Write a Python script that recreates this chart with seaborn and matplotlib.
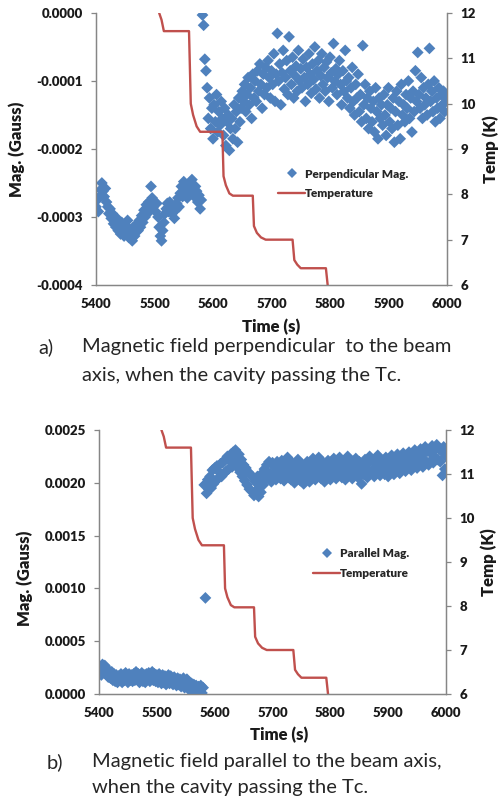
import numpy as np
import pandas as pd
import matplotlib
matplotlib.use("Agg")
import matplotlib.pyplot as plt
from matplotlib.lines import Line2D
import seaborn as sns

# ---------------- data ----------------
# temperature trace (same run shown on both panels)
temp_time = [5508, 5512, 5516, 5559, 5562, 5566, 5572, 5578, 5616, 5618, 5622, 5628,
             5634, 5668, 5670, 5675, 5682, 5690, 5736, 5739, 5744, 5750, 5793, 5796]
temp_vals = [12.0, 11.85, 11.6, 11.6, 10.0, 9.75, 9.5, 9.38, 9.38, 8.4, 8.2, 8.02,
             7.97, 7.97, 7.3, 7.15, 7.05, 7.0, 7.0, 6.55, 6.45, 6.37, 6.37, 6.0]

# sample times
t_low = np.arange(5400, 5581, 2)      # 91 samples
t_high = np.arange(5582, 6001, 2)     # 210 samples

# a) perpendicular magnetisation, units of 1e-4 Gauss
perp_low = [-2.85, -2.75, -2.92, -2.70, -2.60,
            -2.50, -2.62, -2.70, -2.58, -2.78,
            -2.85, -2.95, -2.88, -3.02, -2.95, -3.10, -3.05, -3.15, -3.02, -3.20,
            -3.12, -3.25, -3.08, -3.18, -3.28, -3.12, -3.22, -3.05, -3.30, -3.18,
            -3.25, -3.35, -3.15, -3.28, -3.22, -3.10, -3.20, -3.05, -3.15, -2.98,
            -3.08, -2.90, -3.00, -2.82, -2.95, -2.78, -2.88, -2.55, -2.72, -2.85,
            -2.78, -2.92, -2.80, -3.00, -3.15, -3.28, -3.35, -3.20, -3.08, -2.95,
            -2.88, -2.80, -2.92, -2.78, -2.85, -2.95, -2.88, -3.02, -2.90, -2.80,
            -2.72, -2.85, -2.65, -2.55, -2.70, -2.48, -2.62, -2.55, -2.72, -2.60,
            -2.50, -2.65, -2.45, -2.58, -2.70, -2.55, -2.62, -2.78, -2.68, -2.88,
            -2.75]
perp_high = [-0.03, -0.18, -0.68, -0.85, -1.10,
             -1.55, -1.25, -1.70, -1.40, -1.85, -1.35, -1.60, -1.20, -1.75, -1.45,
             -1.65, -1.30, -1.55, -1.80, -1.40, -1.95, -1.60, -1.50, -2.02, -1.70,
             -1.55, -1.85, -1.35, -1.70, -1.45, -1.90, -1.25, -1.60, -1.40, -1.15,
             -1.30, -1.05, -1.45, -1.20, -0.95, -1.35, -1.10, -1.55, -0.90, -1.25,
             -1.00, -1.30, -0.85, -1.15, -0.75, -1.05, -1.40, -0.90, -1.20, -0.80,
             -1.10, -0.70, -0.95, -1.25, -0.85, -1.05, -0.60, -1.30, -0.90, -0.30,
             -1.00, -0.75, -1.35, -0.88, -0.55, -1.12, -0.95, -0.70, -1.20, -0.35,
             -0.85, -1.05, -0.65, -1.25, -0.92, -0.78, -1.15, -0.55, -1.00, -0.82,
             -1.10, -0.68, -0.95, -1.30, -0.80, -1.05, -0.60, -0.90, -1.18, -0.75,
             -0.98, -0.50, -1.12, -0.85, -0.70, -1.25, -0.92, -0.60, -1.05, -0.80,
             -1.15, -0.72, -0.95, -1.30, -0.65, -0.88, -1.10, -0.45, -1.00, -0.82,
             -1.20, -0.90, -0.70, -1.05, -1.35, -0.85, -1.15, -0.55, -1.00, -1.25,
             -0.95, -1.40, -1.10, -0.80, -1.30, -1.50, -1.05, -1.25, -0.90, -1.45,
             -1.20, -1.60, -0.48, -1.35, -1.05, -1.55, -1.25, -1.70, -1.15, -1.40,
             -1.60, -1.30, -1.75, -1.10, -1.45, -1.85, -1.25, -1.55, -1.35, -1.65,
             -1.20, -1.50, -1.80, -1.35, -1.10, -1.60, -1.40, -1.70, -1.25, -1.90,
             -1.45, -1.15, -1.65, -1.30, -1.85, -1.05, -1.50, -1.35, -1.60, -1.20,
             -1.40, -1.00, -1.55, -1.25, -1.75, -1.15, -1.45, -0.85, -1.30, -0.58,
             -1.20, -1.40, -0.95, -1.55, -1.10, -1.35, -1.25, -1.50, -1.05, -0.52,
             -1.30, -1.15, -1.45, -1.00, -1.60, -1.25, -1.40, -1.10, -1.55, -1.20,
             -1.35, -1.15, -1.45, -1.25, -1.30]

# b) parallel magnetisation, units of 1e-3 Gauss
par_low = [0.20, 0.26, 0.18, 0.28, 0.22,
           0.27, 0.19, 0.24, 0.16, 0.21,
           0.15, 0.21, 0.13, 0.19, 0.12, 0.18, 0.11, 0.17, 0.13, 0.19,
           0.11, 0.18, 0.13, 0.20, 0.14, 0.11, 0.19, 0.13, 0.18, 0.12,
           0.19, 0.13, 0.21, 0.14, 0.19, 0.11, 0.17, 0.20, 0.12, 0.18,
           0.11, 0.19, 0.14, 0.20, 0.12, 0.18, 0.21, 0.13, 0.19, 0.12,
           0.18, 0.11, 0.19, 0.13, 0.10, 0.18, 0.11, 0.17, 0.09, 0.16,
           0.18, 0.10, 0.17, 0.11, 0.09, 0.16, 0.10, 0.08, 0.15, 0.09,
           0.14, 0.07, 0.13, 0.15, 0.06, 0.12, 0.14, 0.05, 0.11, 0.04,
           0.10, 0.03, 0.09, 0.01, 0.08, 0.00, 0.07, 0.02, 0.08, 0.01,
           0.06]
par_high = [1.98, 0.91, 1.90, 2.03, 1.94,
            2.06, 1.95, 2.12, 1.99, 2.14, 2.02, 2.16, 2.04, 2.10, 2.18,
            2.06, 2.19, 2.09, 2.22, 2.11, 2.25, 2.13, 2.21, 2.27, 2.15,
            2.29, 2.18, 2.31, 2.22, 2.14, 2.27, 2.10, 2.22, 2.06, 2.17,
            2.02, 2.14, 1.98, 2.10, 1.94, 2.08, 1.92, 2.05, 1.88, 2.01,
            1.93, 2.06, 1.87, 2.00, 1.91, 2.09, 1.98, 2.13, 2.03, 2.17,
            2.05, 2.20, 2.09, 2.01, 2.19, 2.07, 2.15, 2.03, 2.20, 2.10,
            2.16, 2.04, 2.21, 2.10, 2.02, 2.18, 2.08, 2.24, 2.05, 2.14,
            2.03, 2.19, 2.09, 2.00, 2.17, 2.06, 2.22, 2.12, 2.02, 2.18,
            2.08, 1.99, 2.15, 2.05, 2.20, 2.10, 2.01, 2.17, 2.06, 2.23,
            2.12, 2.03, 2.19, 2.08, 2.24, 2.14, 2.04, 2.20, 2.09, 2.01,
            2.16, 2.06, 2.21, 2.11, 2.03, 2.18, 2.08, 2.23, 2.13, 2.04,
            2.19, 2.09, 2.24, 2.14, 2.05, 2.20, 2.10, 2.03, 2.17, 2.25,
            2.07, 2.21, 2.12, 2.04, 2.19, 2.09, 2.23, 2.15, 2.05, 2.20,
            2.11, 1.99, 2.17, 2.08, 2.22, 2.13, 2.05, 2.19, 2.25, 2.09,
            2.22, 2.13, 2.06, 2.20, 2.10, 2.26, 2.15, 2.07, 2.21, 2.12,
            2.18, 2.08, 2.24, 2.14, 2.06, 2.20, 2.11, 2.26, 2.16, 2.08,
            2.21, 2.12, 2.27, 2.17, 2.09, 2.23, 2.14, 2.28, 2.19, 2.11,
            2.24, 2.15, 2.29, 2.20, 2.12, 2.26, 2.17, 2.31, 2.22, 2.14,
            2.27, 2.18, 2.32, 2.23, 2.15, 2.28, 2.34, 2.20, 2.30, 2.17,
            2.29, 2.21, 2.35, 2.19, 2.31, 2.24, 2.36, 2.22, 2.32, 2.20,
            2.30, 2.07, 2.34, 2.13, 2.25]

x_ticks = [5400, 5500, 5600, 5700, 5800, 5900, 6000]
temp_ticks = [6, 7, 8, 9, 10, 11, 12]
perp_ticks = [-0.0004, -0.0003, -0.0002, -0.0001, 0.0]
perp_tick_labels = ["-0.0004", "-0.0003", "-0.0002", "-0.0001", "0.0000"]
par_ticks = [0.0, 0.0005, 0.0010, 0.0015, 0.0020, 0.0025]
par_tick_labels = ["0.0000", "0.0005", "0.0010", "0.0015", "0.0020", "0.0025"]

caption_a = ["Magnetic field perpendicular  to the beam", "axis, when the cavity passing the Tc."]
caption_b = ["Magnetic field parallel to the beam axis,", "when the cavity passing the Tc."]

# ---------------- style ----------------
sns.set_style("white")
plt.rcParams["font.family"] = ["Lato", "DejaVu Sans"]

BLUE = "#4F81BD"
RED = "#C0504D"
GRID = "#868686"
TXT = "#1a1a1a"

W, H = 499, 801
fig = plt.figure(figsize=(W / 100, H / 100), dpi=100)
fig.patch.set_facecolor("white")


def px_axes(l, r, t, b):
    return [l / W, 1 - b / H, (r - l) / W, (b - t) / H]


def style_axes(ax, ax2):
    for a in (ax, ax2):
        a.spines["top"].set_visible(False)
        for s in ("left", "right", "bottom"):
            a.spines[s].set_color(GRID)
            a.spines[s].set_linewidth(0.9)
        a.tick_params(direction="out", length=3.5, width=0.9, color=GRID,
                      labelsize=9.5, labelcolor=TXT)
        a.tick_params(axis="y", pad=6)
    ax.tick_params(axis="x", pad=6)
    for lab in ax.get_xticklabels() + ax.get_yticklabels() + ax2.get_yticklabels():
        lab.set_fontweight("heavy")


def panel(rect, t_lo, v_lo, t_hi, v_hi, scale, yticks, ylabels, ylim, label, leg_anchor,
          xlabel_x, ylabel_pos, temp_x):
    ax = fig.add_axes(rect)
    df = pd.DataFrame({"time": np.concatenate([t_lo, t_hi]),
                       "mag": np.concatenate([v_lo, v_hi]) * scale})
    sns.scatterplot(data=df, x="time", y="mag", ax=ax, marker="D", s=36,
                    color=BLUE, linewidth=0, edgecolor="none", zorder=3)
    ax.set_xlim(5400, 6000)
    ax.set_ylim(*ylim)
    ax.set_xticks(x_ticks)
    ax.set_xticklabels([str(v) for v in x_ticks])
    ax.set_yticks(yticks)
    ax.set_yticklabels(ylabels)
    ax.set_xlabel("Time (s)", fontsize=12, fontweight="heavy", color=TXT)
    ax.xaxis.set_label_coords(xlabel_x, -0.125)
    ax.set_ylabel("Mag. (Gauss)", fontsize=12, fontweight="heavy", color=TXT)
    ax.yaxis.set_label_coords(*ylabel_pos)

    ax2 = ax.twinx()
    tdf = pd.DataFrame({"time": temp_time, "temp": temp_vals})
    sns.lineplot(data=tdf, x="time", y="temp", ax=ax2, color=RED, linewidth=1.7,
                 estimator=None, sort=False)
    ax2.set_ylim(6, 12)
    ax2.set_yticks(temp_ticks)
    ax2.set_yticklabels([str(v) for v in temp_ticks])
    ax2.set_ylabel("Temp (K)", fontsize=12, fontweight="heavy", color=TXT)
    ax2.yaxis.set_label_coords(temp_x, 0.5)
    ax2.grid(False)
    ax.grid(False)
    style_axes(ax, ax2)

    handles = [Line2D([], [], marker="D", markersize=5, color=BLUE, linestyle="none",
                      markeredgewidth=0),
               Line2D([], [], color=RED, linewidth=1.7)]
    fig.legend(handles, [label, "Temperature"], loc="center left",
               bbox_to_anchor=leg_anchor, frameon=False,
               prop={"weight": "heavy", "size": 8.5}, handlelength=2.3,
               handletextpad=0.0, labelspacing=0.75, borderpad=0, borderaxespad=0)
    return ax, ax2


axA, axA2 = panel(px_axes(96, 447, 13, 285), t_low, perp_low, t_high, perp_high, 1e-4,
                  perp_ticks, perp_tick_labels, (-0.0004, 0.0), "Perpendicular Mag.",
                  (278 / W, 1 - 184 / H), 0.5, (-0.202, 0.5), 1.10)
axB, axB2 = panel(px_axes(99, 446, 430, 694), t_low, par_low, t_high, par_high, 1e-3,
                  par_ticks, par_tick_labels, (0.0, 0.0025), "Parallel Mag.",
                  (313 / W, 1 - 563.5 / H), 0.52, (-0.19, 0.44), 1.10)

# captions
cap_kw = dict(fontsize=14.5, color="#262626", va="center", ha="left")
fig.text(38 / W, 1 - 347 / H, "a)", **cap_kw)
fig.text(82 / W, 1 - 347 / H, caption_a[0], **cap_kw)
fig.text(82 / W, 1 - 375 / H, caption_a[1], **cap_kw)
fig.text(47 / W, 1 - 762 / H, "b)", **cap_kw)
fig.text(92 / W, 1 - 762 / H, caption_b[0], **cap_kw)
fig.text(92 / W, 1 - 787 / H, caption_b[1], **cap_kw)

fig.savefig("out.png", dpi=100, facecolor="white")
